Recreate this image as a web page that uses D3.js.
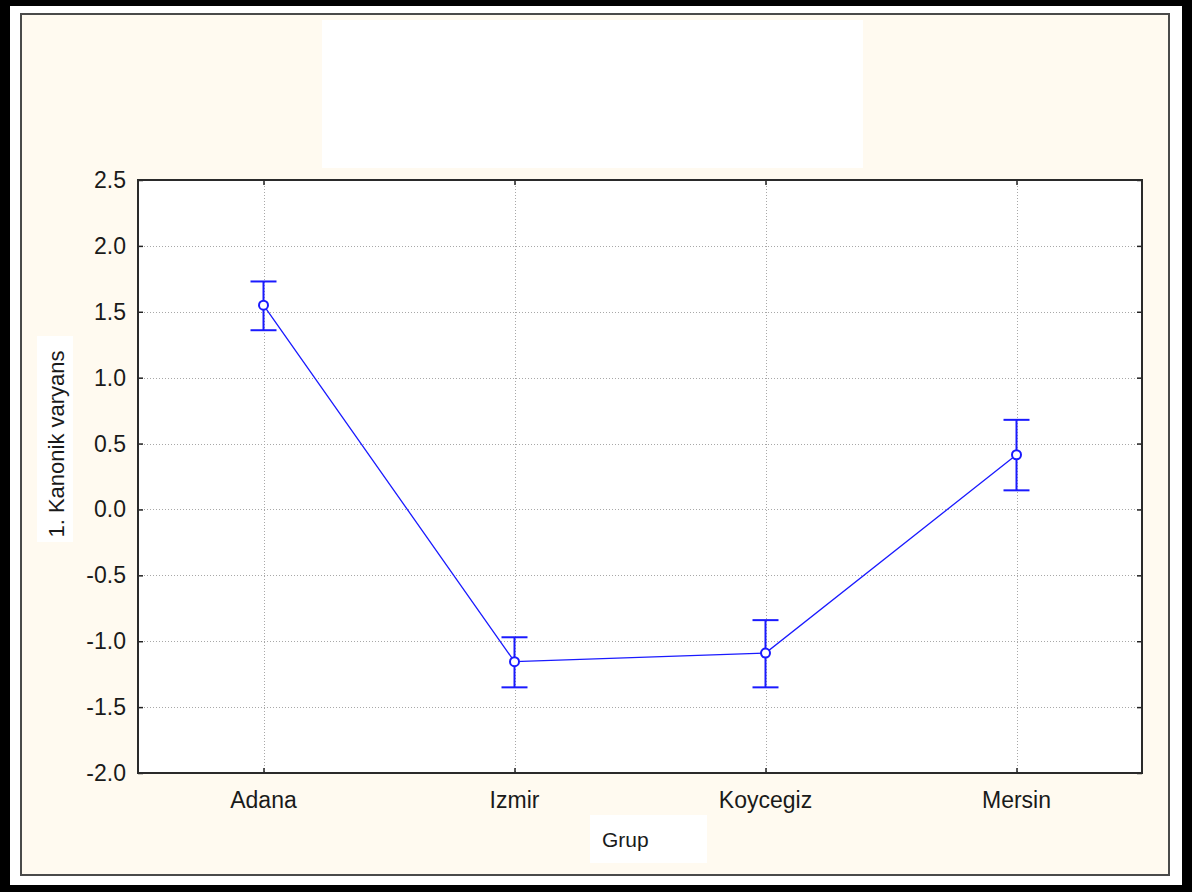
<!DOCTYPE html>
<html lang="en">
<head>
    <meta charset="UTF-8">
    <title>Kanonik varyans</title>

    <script src="https://d3js.org/d3.v7.min.js"></script>

    <style>
        html, body {
            margin: 0;
            padding: 0;
            background: #000;
        }
        svg {
            display: block;
        }
        text {
            font-family: "Liberation Sans", Arial, sans-serif;
            fill: #1a1a1a;
        }
    </style>

    <script>

        const GROUPS = ["Adana", "Izmir", "Koycegiz", "Mersin"];
        const MEANS = [1.55, -1.155, -1.09, 0.415];
        const UPPER = [1.73, -0.97, -0.84, 0.68];
        const LOWER = [1.36, -1.35, -1.35, 0.145];
        const Y_TICKS = [-2.0, -1.5, -1.0, -0.5, 0.0, 0.5, 1.0, 1.5, 2.0, 2.5];

        document.addEventListener("DOMContentLoaded", function() {
            drawChart();
        })

        function drawChart() {
            const width = 1192;
            const height = 892;

            const svg = d3.select("svg")
                .attr("width", width)
                .attr("height", height);

            // outer frame: black, then white strip, then cream panel
            svg.append("rect")
                .attr("x", 0).attr("y", 0)
                .attr("width", width).attr("height", height)
                .attr("fill", "#000");
            svg.append("rect")
                .attr("x", 10).attr("y", 6)
                .attr("width", 1172).attr("height", 879)
                .attr("fill", "#fff");
            svg.append("rect")
                .attr("x", 21).attr("y", 14)
                .attr("width", 1148).attr("height", 861)
                .attr("fill", "#fffaf0")
                .attr("stroke", "#4a4a4a")
                .attr("stroke-width", 2);

            // blank title area
            svg.append("rect")
                .attr("x", 322).attr("y", 20)
                .attr("width", 541).attr("height", 148)
                .attr("fill", "#fff");

            const margin = {left: 138, right: 1142, top: 180, bottom: 773};

            const x = d3.scalePoint()
                .domain(GROUPS)
                .range([margin.left, margin.right])
                .padding(0.5);

            const y = d3.scaleLinear()
                .domain([-2.0, 2.5])
                .range([margin.bottom, margin.top]);

            // plot background
            svg.append("rect")
                .attr("x", margin.left).attr("y", margin.top)
                .attr("width", margin.right - margin.left)
                .attr("height", margin.bottom - margin.top)
                .attr("fill", "#fff");

            // grid
            const grid = svg.append("g")
                .attr("stroke", "#a8a8a8")
                .attr("stroke-width", 1)
                .attr("stroke-dasharray", "1,2");

            grid.selectAll(".hgrid")
                .data(Y_TICKS.filter(d => d > -2.0 && d < 2.5))
                .enter()
                .append("line")
                .attr("x1", margin.left).attr("x2", margin.right)
                .attr("y1", d => Math.round(y(d)) + 0.5)
                .attr("y2", d => Math.round(y(d)) + 0.5);

            grid.selectAll(".vgrid")
                .data(GROUPS)
                .enter()
                .append("line")
                .attr("y1", margin.top).attr("y2", margin.bottom)
                .attr("x1", d => Math.round(x(d)) + 0.5)
                .attr("x2", d => Math.round(x(d)) + 0.5);

            // axes with inside ticks
            const fmt = d => d3.format(".1f")(d).replace("\u2212", "-");

            const yAxis = svg.append("g")
                .attr("transform", "translate(" + margin.left + ",0)")
                .call(d3.axisRight(y).tickValues(Y_TICKS).tickSize(5).tickFormat(""));
            yAxis.select(".domain").remove();

            const yAxisR = svg.append("g")
                .attr("transform", "translate(" + margin.right + ",0)")
                .call(d3.axisLeft(y).tickValues(Y_TICKS).tickSize(5).tickFormat(""));
            yAxisR.select(".domain").remove();

            const xAxis = svg.append("g")
                .attr("transform", "translate(0," + margin.bottom + ")")
                .call(d3.axisTop(x).tickSize(5).tickFormat(""));
            xAxis.select(".domain").remove();

            const xAxisT = svg.append("g")
                .attr("transform", "translate(0," + margin.top + ")")
                .call(d3.axisBottom(x).tickSize(5).tickFormat(""));
            xAxisT.select(".domain").remove();

            svg.selectAll(".tick line")
                .attr("stroke", "#222")
                .attr("stroke-width", 1.5);

            // y tick labels
            svg.append("g")
                .selectAll("text")
                .data(Y_TICKS)
                .enter()
                .append("text")
                .attr("x", 126)
                .attr("y", d => y(d) + 8)
                .attr("text-anchor", "end")
                .style("font-size", "23px")
                .text(d => fmt(d));

            // x tick labels
            svg.append("g")
                .selectAll("text")
                .data(GROUPS)
                .enter()
                .append("text")
                .attr("x", d => x(d))
                .attr("y", 808)
                .attr("text-anchor", "middle")
                .style("font-size", "23px")
                .text(d => d);

            // plot frame
            svg.append("rect")
                .attr("x", margin.left).attr("y", margin.top)
                .attr("width", margin.right - margin.left)
                .attr("height", margin.bottom - margin.top)
                .attr("fill", "none")
                .attr("stroke", "#2a2a2a")
                .attr("stroke-width", 2);

            // axis titles on white boxes
            svg.append("rect")
                .attr("x", 37).attr("y", 336)
                .attr("width", 36).attr("height", 206)
                .attr("fill", "#fff");
            svg.append("text")
                .attr("transform", "translate(64,444) rotate(-90)")
                .attr("text-anchor", "middle")
                .style("font-size", "22px")
                .text("1. Kanonik varyans");

            svg.append("rect")
                .attr("x", 590).attr("y", 815)
                .attr("width", 117).attr("height", 48)
                .attr("fill", "#fff");
            svg.append("text")
                .attr("x", 602).attr("y", 847)
                .style("font-size", "21px")
                .text("Grup");

            // data
            const rows = GROUPS.map((g, i) => ({group: g, mean: MEANS[i], hi: UPPER[i], lo: LOWER[i]}));

            const line = d3.line()
                .x(d => x(d.group))
                .y(d => y(d.mean));

            svg.append("path")
                .datum(rows)
                .attr("d", line)
                .attr("fill", "none")
                .attr("stroke", "#1a1aff")
                .attr("stroke-width", 1.3);

            const bars = svg.append("g")
                .attr("stroke", "#1a1aff")
                .attr("stroke-width", 2);

            bars.selectAll(".whisker")
                .data(rows)
                .enter()
                .append("line")
                .attr("x1", d => x(d.group)).attr("x2", d => x(d.group))
                .attr("y1", d => y(d.hi)).attr("y2", d => y(d.lo));

            bars.selectAll(".capHi")
                .data(rows)
                .enter()
                .append("line")
                .attr("x1", d => x(d.group) - 13).attr("x2", d => x(d.group) + 13)
                .attr("y1", d => y(d.hi)).attr("y2", d => y(d.hi));

            bars.selectAll(".capLo")
                .data(rows)
                .enter()
                .append("line")
                .attr("x1", d => x(d.group) - 13).attr("x2", d => x(d.group) + 13)
                .attr("y1", d => y(d.lo)).attr("y2", d => y(d.lo));

            svg.append("g")
                .selectAll("circle")
                .data(rows)
                .enter()
                .append("circle")
                .attr("cx", d => x(d.group))
                .attr("cy", d => y(d.mean))
                .attr("r", 4.5)
                .attr("fill", "#fff")
                .attr("stroke", "#1a1aff")
                .attr("stroke-width", 2);
        }

    </script>

</head>
<body>
    <svg id="chart"></svg>
</body>
</html>
